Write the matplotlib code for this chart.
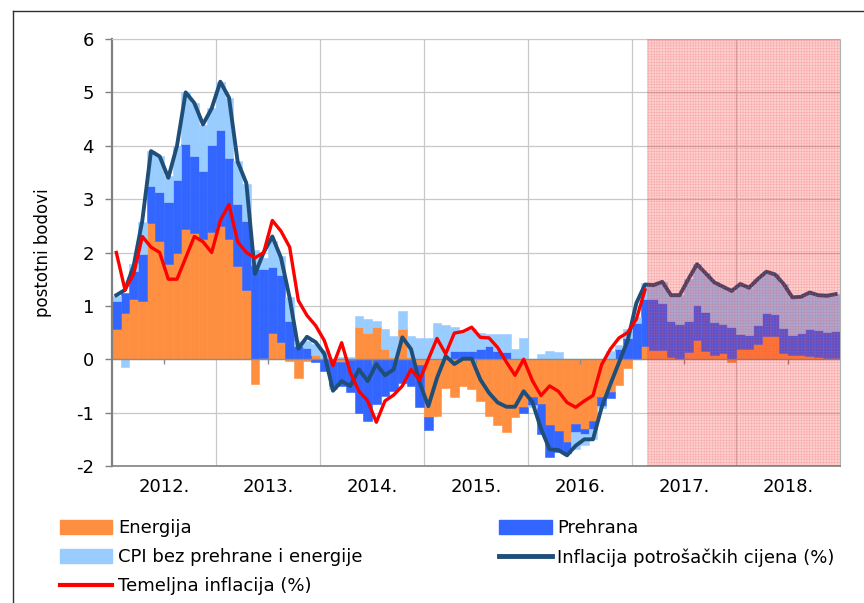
import numpy as np
import matplotlib
matplotlib.use('Agg')
import matplotlib.pyplot as plt
from matplotlib.patches import Patch
from matplotlib.lines import Line2D

plt.rcParams['axes.unicode_minus'] = False  # obični minus kao u izvorniku
plt.rcParams['hatch.linewidth'] = 0.4

# Godine na osi x (mjesečni podaci od siječnja 2012. do prosinca 2018.)
godine = ['2012.', '2013.', '2014.', '2015.', '2016.', '2017.', '2018.']

# Doprinosi godišnjoj inflaciji (postotni bodovi)
energija = [0.56, 0.86, 1.12, 1.09, 2.56, 2.22, 1.79, 1.99, 2.44, 2.37, 2.26, 2.39,
            2.50, 2.26, 1.74, 1.29, -0.47, 0.02, 0.49, 0.33, -0.03, -0.35, -0.03, 0.08,
            0.02, -0.05, -0.05, -0.02, 0.61, 0.49, 0.61, 0.20, 0.05, 0.56, 0.04, -0.10,
            -1.09, -1.06, -0.53, -0.70, -0.50, -0.56, -0.78, -1.06, -1.24, -1.37, -1.09, -0.90,
            -0.70, -0.84, -1.24, -1.34, -1.55, -1.21, -1.30, -1.15, -0.71, -0.62, -0.48, -0.16,
            0.00, 0.24, 0.17, 0.17, 0.05, 0.00, 0.14, 0.36, 0.16, 0.08, 0.11, -0.06,
            0.20, 0.20, 0.29, 0.43, 0.43, 0.11, 0.08, 0.08, 0.06, 0.05, 0.03, 0.02]
prehrana = [0.53, 0.39, 0.54, 0.88, 0.69, 0.91, 1.15, 1.36, 1.60, 1.44, 1.26, 1.63,
            1.80, 1.51, 1.16, 1.30, 1.77, 1.68, 1.23, 1.25, 0.72, 0.25, 0.22, -0.05,
            -0.22, -0.45, -0.45, -0.60, -1.00, -1.16, -0.84, -0.69, -0.60, -0.45, -0.50, -0.80,
            -0.23, 0.00, 0.00, 0.15, 0.16, 0.16, 0.20, 0.25, 0.16, 0.14, 0.00, -0.10,
            -0.15, -0.56, -0.59, -0.40, -0.20, -0.16, -0.10, -0.15, -0.16, -0.10, 0.19, 0.40,
            0.68, 0.89, 0.96, 0.89, 0.67, 0.66, 0.58, 0.65, 0.72, 0.62, 0.55, 0.60,
            0.27, 0.25, 0.35, 0.43, 0.41, 0.47, 0.37, 0.42, 0.50, 0.50, 0.48, 0.51]
cpi_bez = [0.10, -0.15, 0.12, 0.60, 0.66, 0.67, 0.49, 0.64, 0.96, 0.99, 0.87, 0.69,
           0.90, 1.12, 0.81, 0.70, 0.28, 0.20, 0.50, 0.35, 0.45, 0.10, 0.12, 0.20,
           0.15, -0.05, 0.05, 0.05, 0.20, 0.26, 0.11, 0.36, 0.38, 0.34, 0.40, 0.40,
           0.40, 0.68, 0.65, 0.46, 0.37, 0.40, 0.30, 0.22, 0.31, 0.33, 0.19, 0.39,
           -0.05, 0.10, 0.15, 0.13, 0.00, -0.31, -0.20, -0.20, -0.05, 0.15, 0.07, 0.16,
           0.12, 0.30, 0.26, 0.39, 0.48, 0.54, 0.78, 0.77, 0.73, 0.74, 0.70, 0.68,
           0.94, 0.89, 0.86, 0.78, 0.75, 0.83, 0.71, 0.67, 0.69, 0.65, 0.68, 0.69]

# Stope inflacije (%)
inflacija = [1.2, 1.3, 1.75, 2.6, 3.9, 3.8, 3.4, 4.0, 5.0, 4.8, 4.4, 4.7,
             5.2, 4.9, 3.7, 3.3, 1.6, 2.0, 2.3, 1.9, 1.15, 0.2, 0.42, 0.32,
             0.1, -0.59, -0.41, -0.5, -0.19, -0.41, -0.09, -0.3, -0.19, 0.41, 0.19, -0.44,
             -0.88, -0.35, 0.06, -0.09, 0.01, 0.01, -0.38, -0.63, -0.81, -0.89, -0.89, -0.6,
             -0.8, -1.3, -1.69, -1.7, -1.8, -1.62, -1.5, -1.5, -0.9, -0.47, -0.06, 0.35,
             1.05, 1.4, 1.39, 1.45, 1.2, 1.2, 1.5, 1.78, 1.61, 1.44, 1.36, 1.28,
             1.41, 1.34, 1.5, 1.64, 1.59, 1.41, 1.16, 1.17, 1.25, 1.2, 1.19, 1.22]
temeljna = [2.0, 1.3, 1.6, 2.3, 2.1, 2.0, 1.5, 1.5, 1.9, 2.3, 2.2, 2.0,
            2.6, 2.9, 2.2, 2.0, 1.9, 2.0, 2.6, 2.4, 2.1, 1.1, 0.82, 0.63,
            0.35, -0.12, 0.31, -0.25, -0.6, -0.78, -1.18, -0.78, -0.67, -0.5, -0.19, -0.39,
            0.0, 0.39, 0.1, 0.49, 0.52, 0.6, 0.41, 0.4, 0.22, -0.05, -0.3, 0.0,
            -0.4, -0.68, -0.5, -0.6, -0.81, -0.9, -0.78, -0.68, -0.1, 0.19, 0.4, 0.5,
            0.75, 1.3]

pocetak_projekcije = 61.2  # od veljače 2017. projekcija

n = len(energija)
x = np.arange(n)

fig = plt.figure(figsize=(8.64, 6.03), dpi=100)
ax = fig.add_axes([112/864, 1-466/603, 728/864, 427/603])

# Složeni stupci: pozitivni prema gore, negativni prema dolje
poz = np.zeros(n)
neg = np.zeros(n)
for vrijednosti, boja in [(energija, '#FF8F40'), (prehrana, '#3366FF'), (cpi_bez, '#99CCFF')]:
    v = np.array(vrijednosti)
    dno = np.where(v >= 0, poz, neg)
    ax.bar(x, v, width=1.0, bottom=dno, color=boja, edgecolor=boja, linewidth=0.4, zorder=2)
    poz += np.clip(v, 0, None)
    neg += np.clip(v, None, 0)

ax.axhline(0, color='#8c8c8c', lw=1, zorder=2.5)
ax.plot(x, inflacija, color='#1F4E79', lw=2.8, zorder=3, solid_joinstyle='round')
ax.plot(x[:len(temeljna)], temeljna, color='#FF0000', lw=2.4, zorder=4, solid_joinstyle='round')

# Razdoblje projekcije (ružičasto, sa sitnim mrežastim uzorkom)
ax.axvspan(pocetak_projekcije, n - 0.5, facecolor=(1, 0, 0, 0.19),
           edgecolor=(0.9, 0.35, 0.35, 0.3), hatch='++++++', lw=0, zorder=5)

ax.set_xlim(-0.5, n - 0.5)
ax.set_ylim(-2, 6)
ax.set_yticks(range(-2, 7))
ax.set_xticks([5.5 + 12*k for k in range(len(godine))])
ax.set_xticklabels(godine)
ax.set_xticks([11.5 + 12*k for k in range(len(godine) - 1)], minor=True)
ax.tick_params(axis='x', which='both', length=0, pad=9, labelsize=13)
ax.tick_params(axis='y', length=5, width=1, color='#808080', pad=8, labelsize=13)
ax.vlines(ax.get_xticks(), -0.08, 0, color='#8c8c8c', lw=1, zorder=2.5)

ax.grid(axis='y', color='#c8c8c8', lw=0.9, zorder=0)
ax.grid(axis='x', which='minor', color='#c8c8c8', lw=0.9, zorder=0)
ax.set_axisbelow(True)

ax.spines['left'].set_color('#808080')
ax.spines['left'].set_linewidth(1.6)
ax.spines['bottom'].set_color('#808080')
ax.spines['bottom'].set_linewidth(1.2)
ax.spines['top'].set_color('#c8c8c8')
ax.spines['right'].set_color('#b0b0b0')

fig.text(43/864, 1-253/603, 'postotni bodovi', rotation=90, ha='center', va='center', fontsize=12)

# Legenda ispod grafikona
rucke = [Patch(color='#FF8F40', label='Energija'),
         Patch(color='#99CCFF', label='CPI bez prehrane i energije'),
         Line2D([], [], color='#FF0000', lw=3, label='Temeljna inflacija (%)'),
         Patch(color='#3366FF', label='Prehrana'),
         Line2D([], [], color='#1F4E79', lw=3.5, label='Inflacija potrošačkih cijena (%)')]
fig.legend(handles=rucke, ncol=2, loc='upper left', bbox_to_anchor=(60/864, 1-519/603),
           frameon=False, fontsize=13, handlelength=2.9, handleheight=0.8, handletextpad=0.3,
           columnspacing=7.6, labelspacing=0.62, borderpad=0, borderaxespad=0)

# Okvir grafikona
fig.add_artist(Line2D([13/864, 13/864], [0, 1-11/603], color='#303030', lw=1))
fig.add_artist(Line2D([13/864, 1], [1-11/603, 1-11/603], color='#303030', lw=1))

fig.savefig('out.png', dpi=100)
